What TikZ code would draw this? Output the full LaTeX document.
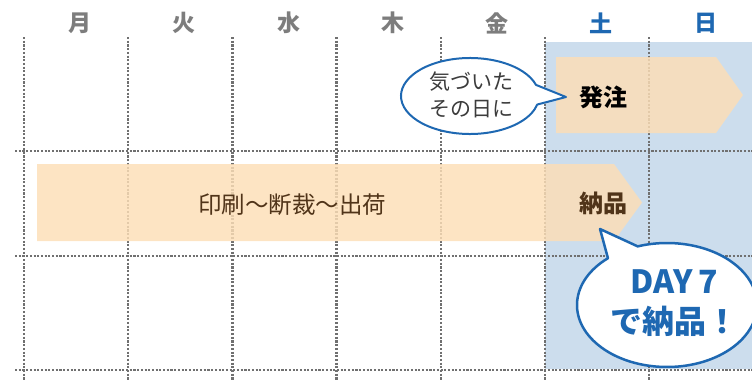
\documentclass[tikz,border=0pt]{standalone}
\usepackage{fontspec}
\setmainfont{Noto Sans CJK JP}
\usetikzlibrary{calc}
\definecolor{gridgray}{RGB}{112,112,112}
\definecolor{labelgray}{RGB}{125,125,125}
\definecolor{dayblue}{RGB}{30,104,178}
\definecolor{bgblue}{RGB}{204,221,237}
\definecolor{peach}{RGB}{253,222,182}
\definecolor{brown}{RGB}{80,52,25}
\definecolor{textgray}{RGB}{60,60,60}
\tikzset{
  gridline/.style={gridgray, line width=2.3pt, dash pattern=on 2.1pt off 1.6pt},
  daylabel/.style={font=\fontsize{23}{23}\selectfont\bfseries, text=labelgray, inner sep=0pt},
  wkndlabel/.style={daylabel, text=dayblue},
  bar/.style={fill=peach, fill opacity=0.82, draw=none},
  bartext/.style={font=\fontsize{24}{24}\selectfont\bfseries, text=brown, inner sep=0pt},
  callout/.style={draw=dayblue, fill=white, line width=2pt, line join=round},
}
\begin{document}
\begin{tikzpicture}[x=1pt,y=1pt]
\useasboundingbox (0,0) rectangle (752,384);
% weekend background
\fill[bgblue] (545,15) rectangle (752,342);
% grid
\foreach \x in {24,128.2,232.4,336.6,440.8,545,649.2}
  \draw[gridline] (\x,347) -- (\x,3);
\foreach \y in {233,128,14}
  \draw[gridline] (15,\y) -- (752,\y);
% day labels
\node[daylabel] (mon) at (80,361) {月};
\node[daylabel] (tue) at (184,361) {火};
\node[daylabel] (wed) at (289,361) {水};
\node[daylabel] (thu) at (393,361) {木};
\node[daylabel] (fri) at (497,361) {金};
\node[wkndlabel] (sat) at (601,361) {土};
\node[wkndlabel] (sun) at (706,361) {日};
% bars
\path[bar] (556,327) -- (716,327) -- (743,289) -- (716,251) -- (556,251) -- cycle;
\path[bar] (37,220) -- (614,220) -- (642,181.5) -- (614,143) -- (37,143) -- cycle;
\node[bartext, text=black] (order) at (603,287) {発注};
\node[bartext] (deliver) at (603,181) {納品};
\node[inner sep=0pt, text=brown, font=\fontsize{23.5}{23.5}\selectfont] (process) at (292,179) {印刷〜断裁〜出荷};
% callout 1
\coordinate (c1) at (470,288);
\coordinate (t1) at (566,287);
\draw[callout] (t1) -- ($(c1)+(17:69 and 38)$) arc[start angle=17, end angle=347, x radius=69, y radius=38] -- cycle;
\node[align=center, text=textgray, font=\fontsize{21}{27}\selectfont, inner sep=0pt] (note1) at (471,289) {気づいた\\その日に};
% callout 2
\begin{scope}
\clip (0,0) rectangle (752,384);
\coordinate (c2) at (667,79);
\coordinate (t2) at (600,155);
\draw[callout, line width=2.5pt] (t2) -- ($(c2)+(131:90 and 62)$) arc[start angle=131, end angle=469, x radius=90, y radius=62] -- cycle;
\end{scope}
\node[align=center, text=dayblue, font=\fontsize{32}{40}\selectfont\bfseries, inner sep=0pt] (note2) at (674,81) {DAY\,7\\で納品！};
\end{tikzpicture}
\end{document}
